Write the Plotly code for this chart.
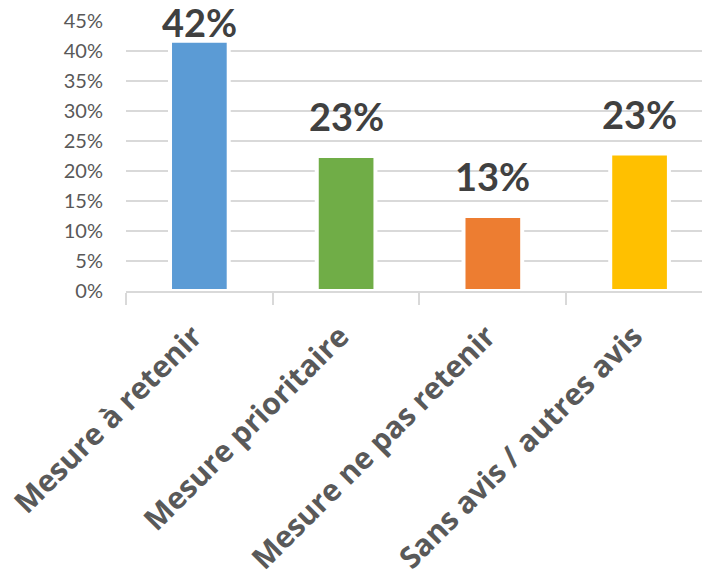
import plotly.graph_objects as go

categories = ["Mesure à retenir", "Mesure prioritaire", "Mesure ne pas retenir", "Sans avis / autres avis"]
values = [0.417, 0.225, 0.125, 0.229]
labels = ["42%", "23%", "13%", "23%"]
colors = ["#5B9BD5", "#70AD47", "#ED7D31", "#FFC000"]
y_ticks = [0, 0.05, 0.10, 0.15, 0.20, 0.25, 0.30, 0.35, 0.40, 0.45]
y_tick_labels = ["0%", "5%", "10%", "15%", "20%", "25%", "30%", "35%", "40%", "45%"]

# label offsets above the bar (the first one is pulled down to stay inside the chart)
label_shifts = [-6, 15, 15, 15]

fig = go.Figure(go.Bar(
    x=categories,
    y=values,
    width=0.4,
    marker=dict(color=colors, line=dict(color="white", width=4)),
    hoverinfo="skip",
))

for cat, val, lab, sh in zip(categories, values, labels, label_shifts):
    fig.add_annotation(
        x=cat, y=val, xref="x", yref="y",
        text=lab, showarrow=False,
        yanchor="bottom", xanchor="center", yshift=sh,
        font=dict(family="Lato", size=38, color="#404040", weight=700),
    )

# page body has an 8px default margin, so the figure is sized to fit the window
fig.update_layout(
    width=702, height=573,
    margin=dict(l=118, r=0, t=13, b=290, autoexpand=False),
    paper_bgcolor="white", plot_bgcolor="white",
    showlegend=False,
)
fig.update_xaxes(
    range=[-0.5, 3.48],
    tickangle=-45,
    automargin=False,
    tickfont=dict(family="Open Sans", size=30, color="#595959", weight=700),
    showline=True, linecolor="#D9D9D9", linewidth=1.5,
    ticks="outside", tickson="boundaries", ticklen=12, tickcolor="#D9D9D9", tickwidth=1.5,
    showgrid=False,
    ticklabelstandoff=14, ticklabelshift=-6,
)
fig.update_yaxes(
    range=[0, 0.45],
    automargin=False,
    tickvals=y_ticks, ticktext=y_tick_labels,
    tickfont=dict(family="Lato", size=20, color="#595959"),
    showgrid=True, gridcolor="#D9D9D9", gridwidth=1.5,
    zeroline=False, showline=False,
    ticklabelstandoff=22,
)

fig.write_html("out.html")
